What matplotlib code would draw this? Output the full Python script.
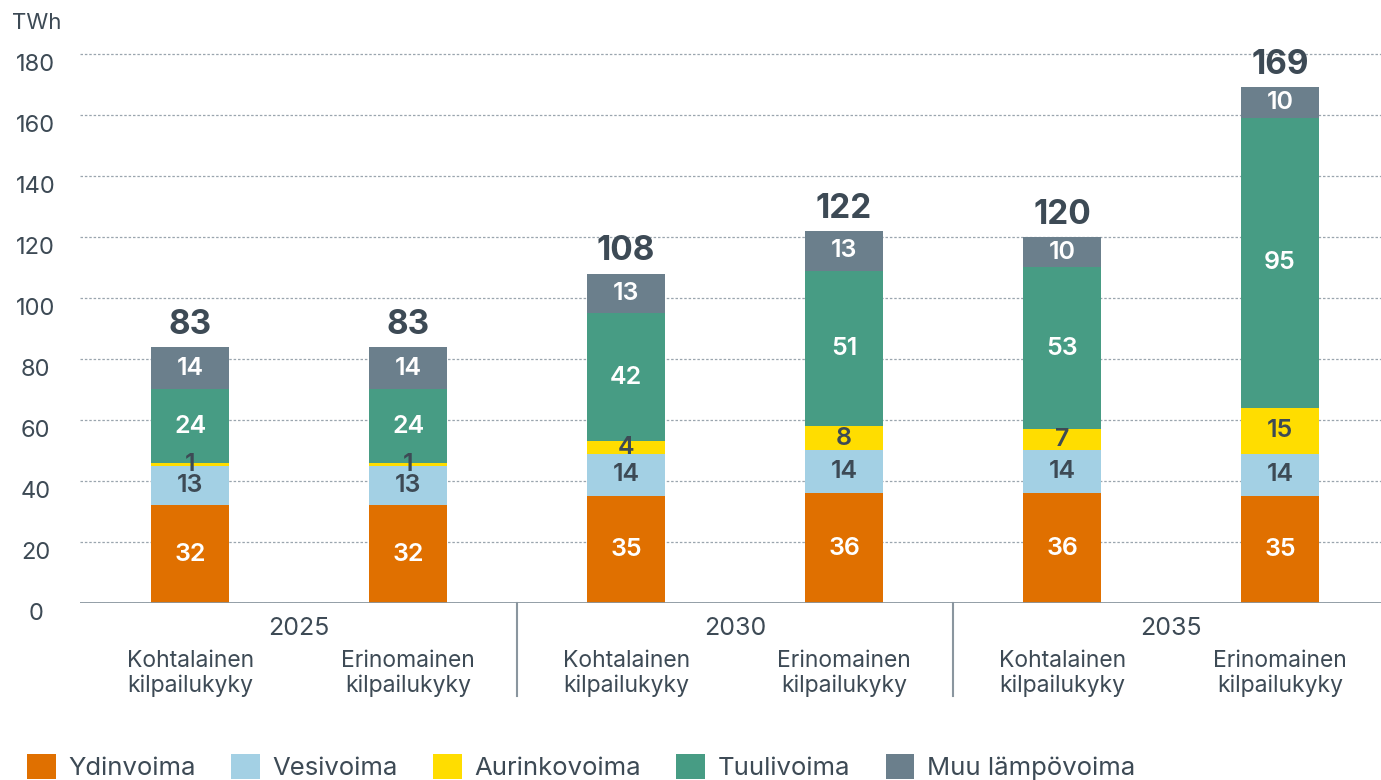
import matplotlib
matplotlib.use("Agg")
import matplotlib.pyplot as plt
from matplotlib.patches import Patch
import numpy as np

plt.rcParams['font.family'] = ['Inter', 'DejaVu Sans']

# data
years = ["2025", "2030", "2035"]
scenarios = ["Kohtalainen\nkilpailukyky", "Erinomainen\nkilpailukyky"] * 3
series_names = ["Ydinvoima", "Vesivoima", "Aurinkovoima", "Tuulivoima", "Muu lämpövoima"]
ydinvoima = [32, 32, 35, 36, 36, 35]
vesivoima = [13, 13, 14, 14, 14, 14]
aurinkovoima = [1, 1, 4, 8, 7, 15]
tuulivoima = [24, 24, 42, 51, 53, 95]
muu = [14, 14, 13, 13, 10, 10]
totals = [83, 83, 108, 122, 120, 169]
yticks = [0, 20, 40, 60, 80, 100, 120, 140, 160, 180]

colors = ["#E07000", "#A3D0E4", "#FFDD00", "#479C84", "#6B7F8C"]
label_colors = ["white", "#3d4a55", "#3d4a55", "white", "white"]
text_col = "#3d4a55"

fig = plt.figure(figsize=(13.81, 7.8), dpi=100)
ax = fig.add_axes([0.058, 0.2269, 0.942, 0.7235])

x = np.arange(len(totals))
bottom = np.zeros(len(totals))
for vals, col, lc in zip([ydinvoima, vesivoima, aurinkovoima, tuulivoima, muu], colors, label_colors):
    ax.bar(x, vals, width=0.36, bottom=bottom, color=col, zorder=2)
    for xi, b, v in zip(x, bottom, vals):
        ax.text(xi, b + v / 2, str(v), ha="center", va="center", fontsize=18,
                fontweight="semibold", color=lc, zorder=3)
    bottom += np.array(vals)

for xi, top, t in zip(x, bottom, totals):
    ax.text(xi, top + 2, str(t), ha="center", va="bottom", fontsize=24,
            fontweight="bold", color=text_col)

ax.set_xlim(-0.505, 5.463)
ax.set_ylim(0, 185)
for s in ax.spines.values():
    s.set_visible(False)
ax.set_xticks([])
ax.set_yticks(yticks)
ax.tick_params(axis="y", length=0, labelleft=False)
ax.grid(axis="y", color="#9aa5ae", linestyle=(0, (2, 1.5)), linewidth=0.9, zorder=0)
ax.axhline(0, color="#8a969f", linewidth=2, zorder=3)

ytr = ax.get_yaxis_transform()
for yv in yticks:
    ax.text(-0.034, yv - 3.5, str(yv), transform=ytr, ha="center", va="center",
            fontsize=17, color=text_col)
fig.text(0.009, 0.971, "TWh", fontsize=16, color=text_col, va="center")

xtr = ax.get_xaxis_transform()
for i, yr in enumerate(years):
    ax.text(2 * i + 0.5, -0.045, yr, transform=xtr, ha="center", va="center",
            fontsize=18, color=text_col, clip_on=False)
for xi, sc in zip(x, scenarios):
    ax.text(xi, -0.125, sc, transform=xtr, ha="center", va="center",
            fontsize=16.5, color=text_col, linespacing=1.15, clip_on=False)
for sep in [1.5, 3.5]:
    ax.plot([sep, sep], [0, -0.165], transform=xtr, color="#8a969f",
            linewidth=1.5, clip_on=False)

handles = [Patch(facecolor=c, label=n) for c, n in zip(colors, series_names)]
fig.legend(handles=handles, loc="lower left", bbox_to_anchor=(0.003, -0.03),
           ncol=5, frameon=False, fontsize=18.5, handlelength=1.1, handleheight=1.1,
           handletextpad=0.5, columnspacing=1.38, labelcolor=text_col)

fig.savefig("out.png", dpi=100)
